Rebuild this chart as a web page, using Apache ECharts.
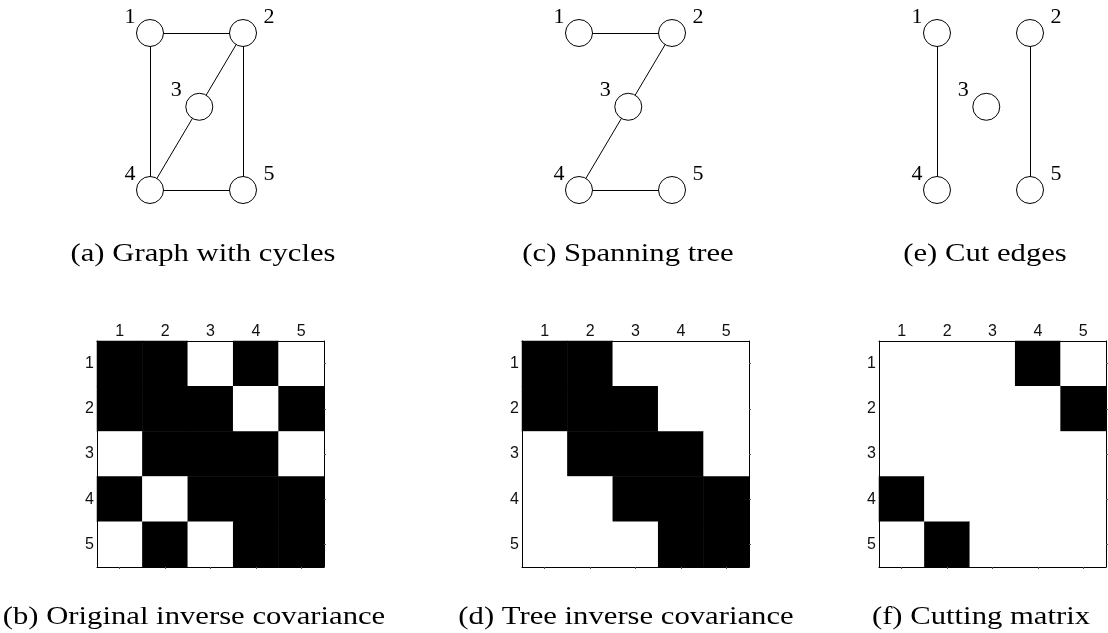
<!DOCTYPE html>
<html>
<head>
<meta charset="utf-8">
<script src="https://cdn.jsdelivr.net/npm/echarts@6/dist/echarts.min.js"></script>
<style>
  html, body { margin: 0; padding: 0; background: #fff; }
  #main { width: 1108px; height: 633px; }
</style>
</head>
<body>
<div id="main"></div>
<script>
// node labels and matrix tick labels
const categories = ["1", "2", "3", "4", "5"];
// node layout inside each graph panel (unit square, y up)
const nodeX = [0, 1, 0.53, 0, 1];
const nodeY = [1, 1, 0.53, 0, 0];
// edges of each graph
const edgesCycles = [[1, 2], [1, 4], [2, 3], [2, 5], [3, 4], [4, 5]];
const edgesTree = [[1, 2], [2, 3], [3, 4], [4, 5]];
const edgesCut = [[1, 4], [2, 5]];
// sparsity patterns (1 = black)
const matrixOriginal = [
  [1, 1, 0, 1, 0],
  [1, 1, 1, 0, 1],
  [0, 1, 1, 1, 0],
  [1, 0, 1, 1, 1],
  [0, 1, 0, 1, 1],
];
const matrixTree = [
  [1, 1, 0, 0, 0],
  [1, 1, 1, 0, 0],
  [0, 1, 1, 1, 0],
  [0, 0, 1, 1, 1],
  [0, 0, 0, 1, 1],
];
const matrixCut = [
  [0, 0, 0, 1, 0],
  [0, 0, 0, 0, 1],
  [0, 0, 0, 0, 0],
  [1, 0, 0, 0, 0],
  [0, 1, 0, 0, 0],
];
const captionsTop = ["(a) Graph with cycles", "(c) Spanning tree", "(e) Cut edges"];
const captionsBottom = ["(b) Original inverse covariance", "(d) Tree inverse covariance", "(f) Cutting matrix"];

const serif = "Liberation Serif";
const sans = "Liberation Sans";

const graphLeft = [150, 579, 937];
const mapLeft = [97, 522, 879];
const capTopX = [203, 628, 985];
const capBotX = [194, 626, 981];

const chart = echarts.init(document.getElementById("main"));

const grid = [];
const xAxis = [];
const yAxis = [];
const series = [];

// graph panels
[edgesCycles, edgesTree, edgesCut].forEach(function (edges, k) {
  grid.push({ left: graphLeft[k], top: 33, width: 93, height: 157 });
  xAxis.push({ type: "value", gridIndex: k, min: 0, max: 1, show: false });
  yAxis.push({ type: "value", gridIndex: k, min: 0, max: 1, show: false });
  series.push({
    type: "graph",
    coordinateSystem: "cartesian2d",
    xAxisIndex: k,
    yAxisIndex: k,
    symbol: "circle",
    symbolSize: 27,
    silent: true,
    itemStyle: { color: "#fff", borderColor: "#000", borderWidth: 1 },
    lineStyle: { color: "#000", width: 1, opacity: 1 },
    data: categories.map(function (name, i) {
      const right = nodeX[i] > 0.75;
      const middle = nodeX[i] > 0.25 && !right;
      return {
        name: name,
        value: [nodeX[i], nodeY[i]],
        label: {
          show: true,
          position: "inside",
          formatter: "{b}",
          offset: right ? [26, -16] : middle ? [-23, -17] : [-20, -16],
          fontFamily: serif,
          fontSize: 22,
          color: "#000",
        },
      };
    }),
    links: edges.map(function (e) {
      return { source: String(e[0]), target: String(e[1]) };
    }),
  });
});

// matrix panels
const lineSt = { show: true, lineStyle: { color: "#000", width: 1 } };
const tickSt = { show: true, alignWithLabel: true, length: 2, lineStyle: { color: "#555" } };
[matrixOriginal, matrixTree, matrixCut].forEach(function (m, k) {
  const g = 3 + k;
  grid.push({ left: mapLeft[k], top: 341, width: 227, height: 226 });
  const xi = xAxis.length;
  xAxis.push({
    type: "category",
    gridIndex: g,
    position: "top",
    data: categories,
    z: 10,
    axisLine: lineSt,
    axisTick: { show: false },
    axisLabel: { margin: 1, fontFamily: sans, fontSize: 16, color: "#111" },
    splitLine: { show: false },
  });
  xAxis.push({
    type: "category",
    gridIndex: g,
    position: "bottom",
    data: categories,
    z: 10,
    axisLine: lineSt,
    axisTick: tickSt,
    axisLabel: { show: false },
  });
  const yi = yAxis.length;
  yAxis.push({
    type: "category",
    gridIndex: g,
    position: "left",
    inverse: true,
    data: categories,
    z: 10,
    axisLine: lineSt,
    axisTick: { show: false },
    axisLabel: { margin: 3, fontFamily: sans, fontSize: 16, color: "#111" },
    splitLine: { show: false },
  });
  yAxis.push({
    type: "category",
    gridIndex: g,
    position: "right",
    inverse: true,
    data: categories,
    z: 10,
    axisLine: lineSt,
    axisTick: tickSt,
    axisLabel: { show: false },
  });
  const cells = [];
  m.forEach(function (row, r) {
    row.forEach(function (v, c) {
      cells.push([c, r, v]);
    });
  });
  series.push({
    type: "heatmap",
    xAxisIndex: xi,
    yAxisIndex: yi,
    silent: true,
    z: 1,
    itemStyle: { borderWidth: 0 },
    emphasis: { disabled: true },
    data: cells,
  });
});

// captions, stretched a little to get the wide look of the original serif
function caption(text, cx, cy) {
  return {
    type: "text",
    x: cx,
    y: cy,
    scaleX: 1.18,
    silent: true,
    style: {
      text: text,
      fontFamily: serif,
      fontSize: 26,
      fill: "#000",
      align: "center",
      verticalAlign: "middle",
    },
  };
}
const graphic = [];
captionsTop.forEach(function (t, k) {
  graphic.push(caption(t, capTopX[k], 254));
});
captionsBottom.forEach(function (t, k) {
  graphic.push(caption(t, capBotX[k], 617));
});

chart.setOption({
  animation: false,
  backgroundColor: "#fff",
  graphic: graphic,
  grid: grid,
  xAxis: xAxis,
  yAxis: yAxis,
  visualMap: {
    show: false,
    min: 0,
    max: 1,
    seriesIndex: [3, 4, 5],
    inRange: { color: ["#ffffff", "#000000"] },
  },
  series: series,
});
</script>
</body>
</html>
